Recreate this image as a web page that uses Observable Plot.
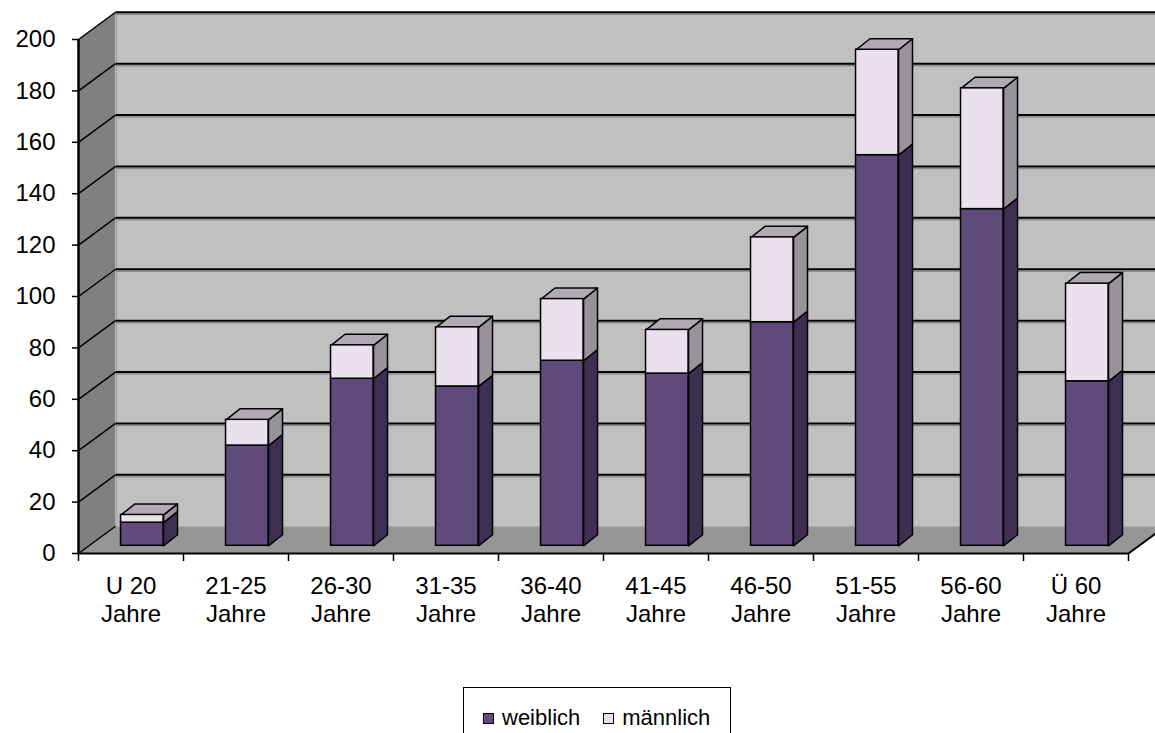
<!DOCTYPE html>
<html>
<head>
<meta charset="utf-8">
<script src="https://cdn.jsdelivr.net/npm/d3@7"></script>
<script src="https://cdn.jsdelivr.net/npm/@observablehq/plot@0.6"></script>
<style>
  html, body { margin: 0; padding: 0; background: #fff; }
  body { width: 1155px; height: 733px; position: relative; overflow: hidden; font-family: "Liberation Sans", Arial, sans-serif; }
  #chart { position: absolute; left: 0; top: 0; }
  #legend { position: absolute; left: 463px; top: 687px; width: 268px; height: 60px; box-sizing: border-box;
            border: 1px solid #000; display: flex; align-items: flex-start; padding: 19px 0 0 19px; font-size: 22px; color: #000; }
  .item { display: flex; align-items: center; line-height: 22px; }
  .sw { width: 9px; height: 9px; border: 1px solid #000; margin-right: 8px; }
</style>
</head>
<body>
<div id="chart"></div>
<div id="legend"></div>
<script>
// ---- data ----
const categories = ["U 20\nJahre", "21-25\nJahre", "26-30\nJahre", "31-35\nJahre", "36-40\nJahre",
                    "41-45\nJahre", "46-50\nJahre", "51-55\nJahre", "56-60\nJahre", "Ü 60\nJahre"];
const weiblich  = [9, 39, 65, 62, 72, 67, 87, 152, 131, 64];
const maennlich = [3, 10, 13, 23, 24, 17, 33, 41, 47, 38];
const yTicks = [0, 20, 40, 60, 80, 100, 120, 140, 160, 180, 200];
const seriesNames = ["weiblich", "männlich"];

// ---- styling / geometry (3D look) ----
const colors = {
  wall: "#c0c0c0", side: "#808080", floor: "#969696",
  wFront: "#604a7b", wSide: "#3e2f52",
  mFront: "#ebe1ee", mSide: "#98939a", mTop: "#afaab3"
};
const N = categories.length;
const YMAX = 200;
const DEPTH_X = 37 / 105;   // wall depth in category units
const DEPTH_Y = 10.6;       // wall depth in value units
const BAR_X0 = 0.405, BAR_X1 = 0.81;  // front face within category
const BAR_Y0 = 3.0;         // bar base (depth shift)
const BAR_DX = 0.133, BAR_DY = 4.3;   // bar depth

function poly(id, pts) { return pts.map(([x, y]) => ({id, x, y})); }
const sideWall = poly("sw", [[0, 0], [0, YMAX], [DEPTH_X, YMAX + DEPTH_Y], [DEPTH_X, DEPTH_Y]]);
const backWall = poly("bw", [[DEPTH_X, DEPTH_Y], [DEPTH_X, YMAX + DEPTH_Y], [N + DEPTH_X, YMAX + DEPTH_Y], [N + DEPTH_X, DEPTH_Y]]);
const floor = poly("fl", [[0, 0], [DEPTH_X, DEPTH_Y], [N + DEPTH_X, DEPTH_Y], [N, 0]]);

const grid = yTicks.map(v => ({v}));

const bars = categories.map((c, i) => ({
  i, w: weiblich[i], m: maennlich[i],
  xl: i + BAR_X0, xr: i + BAR_X1
}));
const wSides = bars.flatMap(b => poly("ws" + b.i, [
  [b.xr, BAR_Y0], [b.xr, BAR_Y0 + b.w], [b.xr + BAR_DX, BAR_Y0 + b.w + BAR_DY], [b.xr + BAR_DX, BAR_Y0 + BAR_DY]]));
const mSides = bars.flatMap(b => poly("ms" + b.i, [
  [b.xr, BAR_Y0 + b.w], [b.xr, BAR_Y0 + b.w + b.m], [b.xr + BAR_DX, BAR_Y0 + b.w + b.m + BAR_DY], [b.xr + BAR_DX, BAR_Y0 + b.w + BAR_DY]]));
const tops = bars.flatMap(b => {
  const t = BAR_Y0 + b.w + b.m;
  return poly("tp" + b.i, [[b.xl, t], [b.xr, t], [b.xr + BAR_DX, t + BAR_DY], [b.xl + BAR_DX, t + BAR_DY]]);
});

const labelData = categories.map((c, i) => ({x: i + 0.5, label: c}));

const chart = Plot.plot({
  width: 1155,
  height: 660,
  marginLeft: 78,
  marginRight: 27,
  marginTop: 39,
  marginBottom: 107,
  style: {fontFamily: '"Liberation Sans", Arial, sans-serif', fontSize: "24px", color: "#000", background: "transparent", overflow: "hidden"},
  x: {type: "linear", domain: [0, N], axis: null},
  y: {type: "linear", domain: [0, YMAX], axis: null},
  marks: [
    Plot.line(sideWall, {x: "x", y: "y", z: "id", curve: "linear-closed", fill: colors.side, stroke: "none"}),
    Plot.line(backWall, {x: "x", y: "y", z: "id", curve: "linear-closed", fill: colors.wall, stroke: "none"}),
    Plot.ruleX([DEPTH_X], {y1: DEPTH_Y, y2: YMAX + DEPTH_Y, stroke: "#a9a9a9", strokeWidth: 2, dx: 1}),
    Plot.line(floor, {x: "x", y: "y", z: "id", curve: "linear-closed", fill: colors.floor, stroke: "none"}),
    Plot.link(grid.filter(d => d.v > 0), {x1: DEPTH_X, x2: N + DEPTH_X, y1: d => d.v + DEPTH_Y, y2: d => d.v + DEPTH_Y, stroke: "#8c8c8c", strokeWidth: 1.5, dy: 2}),
    Plot.link(grid.filter(d => d.v > 0), {x1: DEPTH_X, x2: N + DEPTH_X, y1: d => d.v + DEPTH_Y, y2: d => d.v + DEPTH_Y, stroke: "#000", strokeWidth: 2}),
    Plot.link(grid, {x1: 0, x2: DEPTH_X, y1: d => d.v, y2: d => d.v + DEPTH_Y, stroke: "#000", strokeWidth: 1.5}),
    Plot.link([0], {x1: N, x2: N + DEPTH_X, y1: 0, y2: DEPTH_Y, stroke: "#000", strokeWidth: 2}),
    Plot.ruleX([0], {y1: 0, y2: YMAX, stroke: "#000", strokeWidth: 2.5}),
    Plot.ruleY([0], {x1: 0, x2: N, stroke: "#000", strokeWidth: 2}),
    Plot.axisY(yTicks, {anchor: "left", tickSize: 6, tickPadding: 17, fontSize: 24, label: null, color: "#000", strokeWidth: 1.5}),
    Plot.axisX(d3.range(N + 1), {anchor: "bottom", tickSize: 8, tickFormat: () => "", label: null, color: "#000", strokeWidth: 1.5}),
    Plot.text(labelData, {x: "x", y: 0, text: "label", lineAnchor: "top", dy: 21, lineHeight: 1.15, fontSize: 24, fill: "#000"}),
    Plot.line(wSides, {x: "x", y: "y", z: "id", curve: "linear-closed", fill: colors.wSide, stroke: "#000", strokeWidth: 1.5, strokeLinejoin: "round"}),
    Plot.rect(bars, {x1: "xl", x2: "xr", y1: BAR_Y0, y2: d => BAR_Y0 + d.w, fill: colors.wFront, stroke: "#000", strokeWidth: 1.5}),
    Plot.line(mSides, {x: "x", y: "y", z: "id", curve: "linear-closed", fill: colors.mSide, stroke: "#000", strokeWidth: 1.5, strokeLinejoin: "round"}),
    Plot.line(tops, {x: "x", y: "y", z: "id", curve: "linear-closed", fill: colors.mTop, stroke: "#000", strokeWidth: 1.5, strokeLinejoin: "round"}),
    Plot.rect(bars, {x1: "xl", x2: "xr", y1: d => BAR_Y0 + d.w, y2: d => BAR_Y0 + d.w + d.m, fill: colors.mFront, stroke: "#000", strokeWidth: 1.5})
  ]
});
document.getElementById("chart").appendChild(chart);

const legend = document.getElementById("legend");
[[seriesNames[0], colors.wFront], [seriesNames[1], colors.mFront]].forEach(([name, col], k) => {
  const item = document.createElement("div");
  item.className = "item";
  if (k > 0) item.style.marginLeft = "23px";
  const sw = document.createElement("div");
  sw.className = "sw";
  sw.style.background = col;
  const t = document.createElement("span");
  t.textContent = name;
  item.appendChild(sw);
  item.appendChild(t);
  legend.appendChild(item);
});
</script>
</body>
</html>
